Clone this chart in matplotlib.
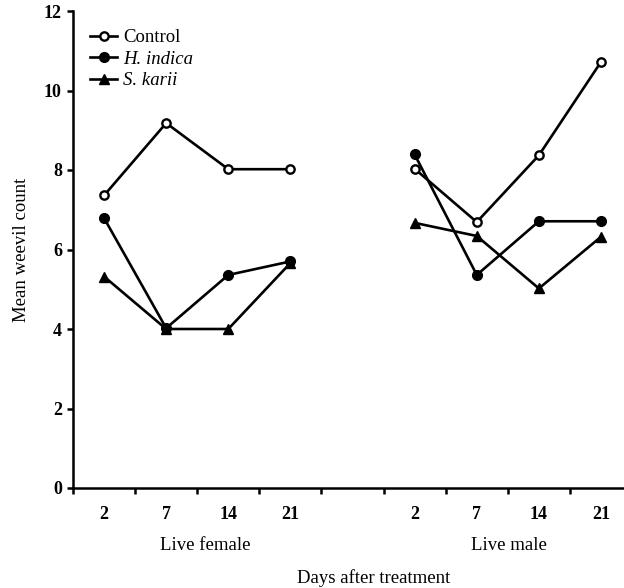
import matplotlib
matplotlib.use("Agg")
import matplotlib.pyplot as plt

plt.rcParams['font.family'] = ['Liberation Serif', 'DejaVu Serif']

days = ["2", "7", "14", "21"]
groups = ["Live female", "Live male"]
series_names = ["Control", "H. indica", "S. karii"]

control_female = [7.36, 9.18, 8.02, 8.02]
control_male = [8.03, 6.69, 8.37, 10.72]
hindica_female = [6.79, 4.02, 5.36, 5.70]
hindica_male = [8.39, 5.36, 6.71, 6.71]
skarii_female = [5.32, 4.0, 4.0, 5.66]
skarii_male = [6.67, 6.34, 5.02, 6.32]

fig = plt.figure(figsize=(6.24, 5.88), dpi=100)
ax = fig.add_axes([73/624, 100/588, 551/624, 477/588])

n = len(days)
x_f = [i + 0.5 for i in range(n)]
x_m = [i + n + 1.5 for i in range(n)]

lw = 1.9
styles = [
    dict(marker='o', markerfacecolor='white', markeredgecolor='black', markersize=6, markeredgewidth=1.7),
    dict(marker='o', markerfacecolor='black', markeredgecolor='black', markersize=7),
    dict(marker='^', markerfacecolor='black', markeredgecolor='black', markersize=7.5),
]
data = [(control_female, control_male), (hindica_female, hindica_male), (skarii_female, skarii_male)]

for name, st, (f, m) in zip(series_names, styles, data):
    ax.plot(x_f, f, color='black', lw=lw, label=name, clip_on=False, **st)
    ax.plot(x_m, m, color='black', lw=lw, clip_on=False, **st)

ax.set_xlim(0, 8.87)
ax.set_ylim(0, 12)
ax.set_yticks(range(0, 13, 2))
ax.set_xticks(range(0, 9))
ax.set_xticklabels([])
ax.set_xticks(x_f + x_m, minor=True)
ax.set_xticklabels(days + days, minor=True)

for s in ['top', 'right']:
    ax.spines[s].set_visible(False)
for s in ['left', 'bottom']:
    ax.spines[s].set_linewidth(1.8)

ax.tick_params(axis='both', which='major', direction='out', length=4, width=1.8, pad=4)
ax.tick_params(axis='x', which='minor', length=0, pad=13)
for lab in ax.get_yticklabels() + ax.get_xticklabels(minor=True):
    lab.set_fontweight('bold')
    lab.set_fontsize(13)

ax.set_ylabel("Mean weevil count", fontsize=13.5, labelpad=10)

# group labels and x title
fig.text(205/624, 1 - 545/588, groups[0], ha='center', va='center', fontsize=13.5)
fig.text(508.5/624, 1 - 545/588, groups[1], ha='center', va='center', fontsize=13.5)
fig.text(373.5/624, 1 - 578/588, "Days after treatment", ha='center', va='center', fontsize=13.5)

leg = ax.legend(loc='upper left', bbox_to_anchor=(0.031, 0.962), frameon=False,
                borderpad=0, borderaxespad=0, handlelength=1.45, handletextpad=0.3,
                labelspacing=0.23, fontsize=13.5)
leg.get_texts()[1].set_style('italic')
leg.get_texts()[2].set_style('italic')

fig.savefig("out.png", dpi=100)
